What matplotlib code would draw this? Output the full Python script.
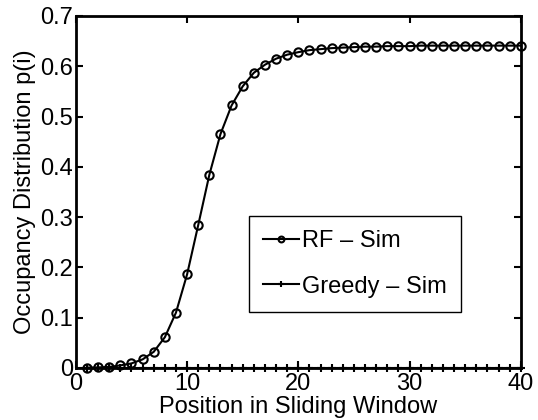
import matplotlib
matplotlib.use("Agg")
import matplotlib.pyplot as plt

plt.rcParams['font.family'] = ['Liberation Sans', 'DejaVu Sans']

positions = list(range(1, 41))
rf_sim = [0.0006, 0.001, 0.002, 0.005, 0.009, 0.017, 0.032, 0.061, 0.110, 0.186,
          0.284, 0.384, 0.465, 0.522, 0.560, 0.587, 0.603, 0.615, 0.623, 0.628,
          0.632, 0.634, 0.636, 0.637, 0.638, 0.639, 0.639, 0.640, 0.640, 0.640,
          0.641, 0.641, 0.641, 0.641, 0.641, 0.641, 0.641, 0.641, 0.641, 0.641]
greedy_sim = [0.0] * 40

x_ticks = [0, 10, 20, 30, 40]
y_ticks = [0, 0.1, 0.2, 0.3, 0.4, 0.5, 0.6, 0.7]
y_tick_labels = ['0', '0.1', '0.2', '0.3', '0.4', '0.5', '0.6', '0.7']

FS = 17

fig = plt.figure(figsize=(5.38, 4.2), dpi=100)
ax = fig.add_axes([0.141, 0.124, 0.827, 0.838])

ax.plot(positions, rf_sim, color='black', lw=1.5, marker='o', ms=6,
        mfc='none', mew=1.5, label='RF \u2013 Sim', clip_on=False, zorder=3)
ax.plot(positions, greedy_sim, color='black', lw=1.5, marker='+', ms=6,
        mew=1.5, label='Greedy \u2013 Sim', clip_on=False, zorder=3)

ax.set_xlim(0, 40)
ax.set_ylim(0, 0.7)
ax.set_xticks(x_ticks)
ax.set_yticks(y_ticks)
ax.set_yticklabels(y_tick_labels)
ax.tick_params(direction='in', top=True, right=True, length=5, width=1.5,
               labelsize=FS)
ax.tick_params(axis='x', pad=3.5)
ax.tick_params(axis='y', pad=2)
for s in ax.spines.values():
    s.set_linewidth(2)

ax.set_xlabel('Position in Sliding Window', fontsize=FS, labelpad=1)
ax.set_ylabel('Occupancy Distribution p(i)', fontsize=FS)
ax.yaxis.set_label_coords(-0.09, 0.5)

leg = ax.legend(loc='upper left', bbox_to_anchor=(0.389, 0.432), fontsize=FS,
                frameon=True, fancybox=False, edgecolor='black', framealpha=1,
                handlelength=1.5, handletextpad=0.15, borderpad=0.6,
                borderaxespad=0, labelspacing=1.0, markerscale=0.7)
leg.get_frame().set_linewidth(1.0)

fig.savefig('out.png', dpi=100)
